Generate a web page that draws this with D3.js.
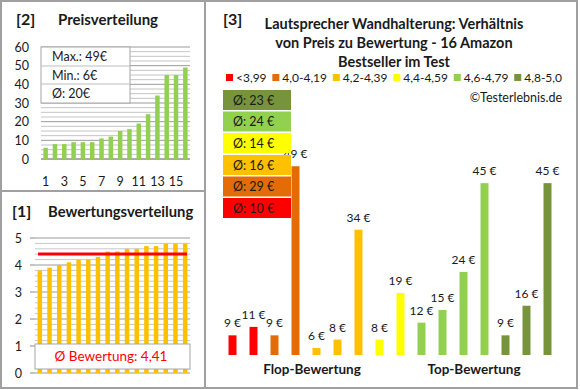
<!DOCTYPE html>
<html>
<head>
<meta charset="utf-8">
<script src="https://cdn.jsdelivr.net/npm/d3@7"></script>
<style>
  body { margin: 0; background: #fff; }
  svg { display: block; font-family: Lato, "Noto Sans", sans-serif; }
</style>
</head>
<body>
<div id="chart"></div>
<script>
// Price distribution [2] (sorted)
const sortedPrices = [6, 8, 8, 9, 9, 9, 11, 12, 15, 16, 19, 24, 34, 45, 45, 49];
const priceTicks = [0, 10, 20, 30, 40, 50, 60];
const priceXLabels = [1, 3, 5, 7, 9, 11, 13, 15];
const priceStats = ['Max.: 49€', 'Min.: 6€', 'Ø: 20€'];

// Rating distribution [1]
const ratings = [3.8, 3.9, 4.0, 4.1, 4.2, 4.2, 4.3, 4.5, 4.5, 4.6, 4.6, 4.7, 4.7, 4.8, 4.8, 4.8];
const ratingAvg = 4.41;
const ratingTicks = [0, 1, 2, 3, 4, 5];

// Price vs rating [3]
const products = d3.range(16);
const productPrices = [9, 11, 9, 49, 6, 8, 34, 8, 19, 12, 15, 24, 45, 9, 16, 45];
const productGroup = [0, 0, 1, 1, 2, 2, 2, 3, 3, 4, 4, 4, 4, 5, 5, 5];
const groupLabels = ['<3,99', '4,0-4,19', '4,2-4,39', '4,4-4,59', '4,6-4,79', '4,8-5,0'];
const groupColors = ['#ff0000', '#e36c09', '#ffc000', '#ffff00', '#92d050', '#77933c'];
const groupAvg = [10, 29, 16, 14, 24, 23];
const titleLines = ['Lautsprecher Wandhalterung: Verhältnis', 'von Preis zu Bewertung - 16 Amazon', 'Bestseller im Test'];

const W = 580, H = 390;
const svg = d3.select('#chart').append('svg').attr('width', W).attr('height', H);
const txt = '#1a1a1a';

// Frames
const frame = svg.append('g').attr('stroke', '#a0a0a0').attr('stroke-width', 2).attr('fill', 'none');
frame.append('rect').attr('x', 1).attr('y', 1).attr('width', 576).attr('height', 387);
frame.append('line').attr('x1', 205).attr('x2', 205).attr('y1', 1).attr('y2', 388);
frame.append('line').attr('x1', 1).attr('x2', 205).attr('y1', 191).attr('y2', 191);

function panelTitle(x1, x2, y, num, label, size) {
  svg.append('text').attr('x', x1).attr('y', y).attr('font-size', 16).attr('font-weight', 'bold').attr('fill', txt).text(num);
  svg.append('text').attr('x', x2).attr('y', y).attr('font-size', size).attr('font-weight', 'bold').attr('fill', txt).text(label);
}

// ---------- Panel [2] Preisverteilung ----------
panelTitle(16, 58, 25, '[2]', 'Preisverteilung', 15);
{
  const x = d3.scaleBand().domain(d3.range(16)).range([41, 190]);
  const y = d3.scaleLinear().domain([0, 60]).range([159, 47]);
  const g = svg.append('g');
  g.selectAll('.minor').data(d3.range(0, 60.01, 2.5)).join('line')
    .attr('x1', 41).attr('x2', 190).attr('y1', d => y(d)).attr('y2', d => y(d))
    .attr('stroke', d => d % 10 === 0 ? '#9a9a9a' : '#c4c4c4').attr('stroke-width', 1);
  g.append('line').attr('x1', 41).attr('x2', 190).attr('y1', y(0)).attr('y2', y(0)).attr('stroke', '#888');
  g.selectAll('rect.bar').data(sortedPrices).join('rect').attr('class', 'bar')
    .attr('x', (d, i) => x(i) + (x.bandwidth() - 4.5) / 2).attr('width', 4.5)
    .attr('y', d => y(d)).attr('height', d => y(0) - y(d)).attr('fill', '#92d050');
  g.selectAll('.yl').data(priceTicks).join('text')
    .attr('x', 29).attr('y', d => y(d) + 4.5).attr('text-anchor', 'end')
    .attr('font-size', 12.5).attr('fill', txt).text(d => d);
  g.selectAll('.xl').data(priceXLabels).join('text')
    .attr('x', d => x(d - 1) + x.bandwidth() / 2).attr('y', 186).attr('text-anchor', 'middle')
    .attr('font-size', 12.5).attr('fill', txt).text(d => d);
  // stats box
  const rows = [47, 66, 84, 103];
  g.append('rect').attr('x', 41).attr('y', 47).attr('width', 89).attr('height', 56)
    .attr('fill', '#fff').attr('stroke', '#a6a6a6');
  g.selectAll('.sep').data(rows.slice(1, 3)).join('line')
    .attr('x1', 41).attr('x2', 130).attr('y1', d => d).attr('y2', d => d).attr('stroke', '#bdbdbd');
  g.selectAll('.st').data(priceStats).join('text')
    .attr('x', 52).attr('y', (d, i) => rows[i] + 14).attr('font-size', 12.5).attr('fill', txt).text(d => d);
}

// ---------- Panel [1] Bewertungsverteilung ----------
panelTitle(12, 48, 217, '[1]', 'Bewertungsverteilung', 14.8);
{
  const x = d3.scaleBand().domain(d3.range(16)).range([35, 190]);
  const y = d3.scaleLinear().domain([0, 5]).range([373, 238]);
  const g = svg.append('g');
  g.selectAll('.minor').data(d3.range(0, 25.01, 1).map(v => v / 5)).join('line')
    .attr('x1', 35).attr('x2', 190).attr('y1', d => y(d)).attr('y2', d => y(d))
    .attr('stroke', (d, i) => i % 5 === 0 ? '#9a9a9a' : '#c8c8c8');
  g.selectAll('.tick').data(ratingTicks).join('line')
    .attr('x1', 30).attr('x2', 35).attr('y1', d => y(d)).attr('y2', d => y(d)).attr('stroke', '#888');
  g.selectAll('rect.bar').data(ratings).join('rect').attr('class', 'bar')
    .attr('x', (d, i) => x(i) + (x.bandwidth() - 4.5) / 2).attr('width', 4.5)
    .attr('y', d => y(d)).attr('height', d => y(0) - y(d)).attr('fill', '#ffc000');
  g.selectAll('.yl').data(ratingTicks).join('text')
    .attr('x', 22).attr('y', d => y(d) + 4.5).attr('text-anchor', 'end')
    .attr('font-size', 12.5).attr('fill', txt).text(d => d);
  g.append('line').attr('x1', 38).attr('x2', 187).attr('y1', y(ratingAvg)).attr('y2', y(ratingAvg))
    .attr('stroke', '#ff0000').attr('stroke-width', 3);
  g.append('rect').attr('x', 35).attr('y', 344).attr('width', 155).attr('height', 25)
    .attr('fill', '#fff').attr('stroke', '#a6a6a6');
  g.append('text').attr('x', 111).attr('y', 361).attr('text-anchor', 'middle')
    .attr('font-size', 13.5).attr('fill', '#ff0000')
    .text('Ø Bewertung: ' + d3.format('.2f')(ratingAvg).replace('.', ','));
}

// ---------- Panel [3] ----------
svg.append('text').attr('x', 223).attr('y', 25).attr('font-size', 16).attr('font-weight', 'bold').attr('fill', txt).text('[3]');
svg.selectAll('.title3').data(titleLines).join('text')
  .attr('x', 394).attr('y', (d, i) => 29 + i * 19).attr('text-anchor', 'middle')
  .attr('font-size', 14.5).attr('font-weight', 'bold').attr('fill', txt).text(d => d);

// legend: flow layout stretched to span 226..562
{
  const lg = svg.append('g');
  const items = groupLabels.map((lab, i) => {
    const r = lg.append('rect').attr('y', 74).attr('width', 7).attr('height', 7).attr('fill', groupColors[i]);
    const t = lg.append('text').attr('y', 82).attr('font-size', 12).attr('fill', txt).text(lab);
    return { r, t, w: t.node().getComputedTextLength() };
  });
  const inner = d3.sum(items, d => 10 + d.w);
  const gap = (562 - 226 - inner) / (items.length - 1);
  let cx = 226;
  items.forEach(d => {
    d.r.attr('x', cx);
    d.t.attr('x', cx + 10);
    cx += 10 + d.w + gap;
  });
}
svg.append('text').attr('x', 562).attr('y', 102).attr('text-anchor', 'end')
  .attr('font-size', 12.5).attr('fill', txt).text('©Testerlebnis.de');

{
  const x = d3.scaleBand().domain(products).range([222, 558]).paddingInner(0.62).paddingOuter(0.31);
  const y = d3.scaleLinear().domain([4.35, 50]).range([355, 162]);
  const g = svg.append('g');
  g.selectAll('rect.bar').data(products).join('rect').attr('class', 'bar')
    .attr('x', d => x(d)).attr('width', x.bandwidth())
    .attr('y', d => y(productPrices[d])).attr('height', d => y(4.35) - y(productPrices[d]))
    .attr('fill', d => groupColors[productGroup[d]]);
  g.selectAll('.vl').data(products).join('text')
    .attr('x', d => x(d) + x.bandwidth() / 2).attr('y', d => y(productPrices[d]) - 8)
    .attr('text-anchor', 'middle').attr('font-size', 12).attr('fill', txt)
    .text(d => productPrices[d] + ' €');

  // average boxes, top = best group
  const order = d3.range(groupLabels.length).reverse();
  const boxY = [90, 111.5, 133, 155, 176.5, 198];
  order.forEach((gi, k) => {
    g.append('rect').attr('x', 223).attr('y', boxY[k]).attr('width', 68).attr('height', 20).attr('fill', groupColors[gi]);
    g.append('text').attr('x', 233).attr('y', boxY[k] + 14.5).attr('font-size', 12.5).attr('fill', txt)
      .text('Ø: ' + groupAvg[gi] + ' €');
  });

  g.append('text').attr('x', 312).attr('y', 374).attr('text-anchor', 'middle')
    .attr('font-size', 13.5).attr('font-weight', 'bold').attr('fill', txt).text('Flop-Bewertung');
  g.append('text').attr('x', 474).attr('y', 374).attr('text-anchor', 'middle')
    .attr('font-size', 13.5).attr('font-weight', 'bold').attr('fill', txt).text('Top-Bewertung');
}
</script>
</body>
</html>
